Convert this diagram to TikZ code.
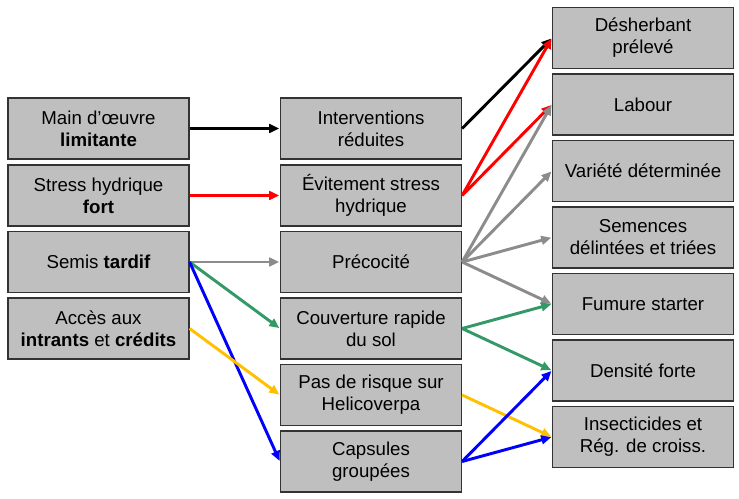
\documentclass[tikz,border=0pt]{standalone}
\usepackage{fontspec}
\setmainfont{Liberation Sans}
\usetikzlibrary{arrows.meta}
\definecolor{boxfill}{HTML}{BFBFBF}
\definecolor{boxdraw}{HTML}{333333}
\definecolor{agreen}{HTML}{339966}
\definecolor{ayellow}{HTML}{FFC000}
\definecolor{agray}{HTML}{8C8C8C}
\begin{document}
\begin{tikzpicture}[x=0.75pt,y=-0.75pt,
  box/.style={draw=boxdraw,line width=0.9pt,fill=boxfill,minimum width=135.75pt,minimum height=45.75pt,
    align=center,inner sep=1pt,font=\fontsize{14}{16.5}\selectfont,anchor=center},
  conn/.style={line width=2.2pt,-{Triangle[length=7.5pt,width=6.5pt]},shorten >=0.5pt}]
\useasboundingbox (0,0) rectangle (739,499);
% left column
\node[box] (main) at (98.5,128.5) {Main d’œuvre\\\textbf{limitante}};
\node[box] (stress) at (98.5,195.5) {Stress hydrique\\\textbf{fort}};
\node[box] (semis) at (98.5,262) {Semis \textbf{tardif}};
\node[box] (acces) at (98.5,328.5) {Accès aux\\\textbf{intrants} et \textbf{crédits}};
% middle column
\node[box] (interv) at (371,128.5) {Interventions\\réduites};
\node[box] (evit) at (371,195.5) {Évitement stress\\hydrique};
\node[box] (preco) at (371,262) {Précocité};
\node[box] (couv) at (371,328.5) {Couverture rapide\\du sol};
\node[box] (risque) at (371,395) {Pas de risque sur\\Helicoverpa};
\node[box] (caps) at (371,461.5) {Capsules\\groupées};
% right column
\node[box] (desh) at (643,38) {Désherbant\\prélevé};
\node[box] (labour) at (643,104.5) {Labour};
\node[box] (variete) at (643,171) {Variété déterminée};
\node[box] (semences) at (643,237.5) {Semences\\délintées et triées};
\node[box] (fumure) at (643,304) {Fumure starter};
\node[box] (densite) at (643,370.5) {Densité forte};
\node[box] (insect) at (643,437) {Insecticides et\\Rég. de croiss.};
% left to middle
\draw[conn,black] (main.east) -- (interv.west);
\draw[conn,red] (stress.east) -- (evit.west);
\draw[conn,agray] (semis.east) -- (preco.west);
\draw[conn,agreen] (semis.east) -- (couv.west);
\draw[conn,blue] (semis.east) -- (caps.west);
\draw[conn,ayellow] (acces.east) -- (risque.west);
% middle to right
\draw[conn,black] (interv.east) -- (desh.west);
\draw[conn,red] (evit.east) -- (desh.west);
\draw[conn,red] (evit.east) -- (labour.west);
\draw[conn,agray] (preco.east) -- (labour.west);
\draw[conn,agray] (preco.east) -- (variete.west);
\draw[conn,agray] (preco.east) -- (semences.west);
\draw[conn,agray] (preco.east) -- (fumure.west);
\draw[conn,agreen] (couv.east) -- (fumure.west);
\draw[conn,agreen] (couv.east) -- (densite.west);
\draw[conn,ayellow] (risque.east) -- (insect.west);
\draw[conn,blue] (caps.east) -- (densite.west);
\draw[conn,blue] (caps.east) -- (insect.west);
\end{tikzpicture}
\end{document}
